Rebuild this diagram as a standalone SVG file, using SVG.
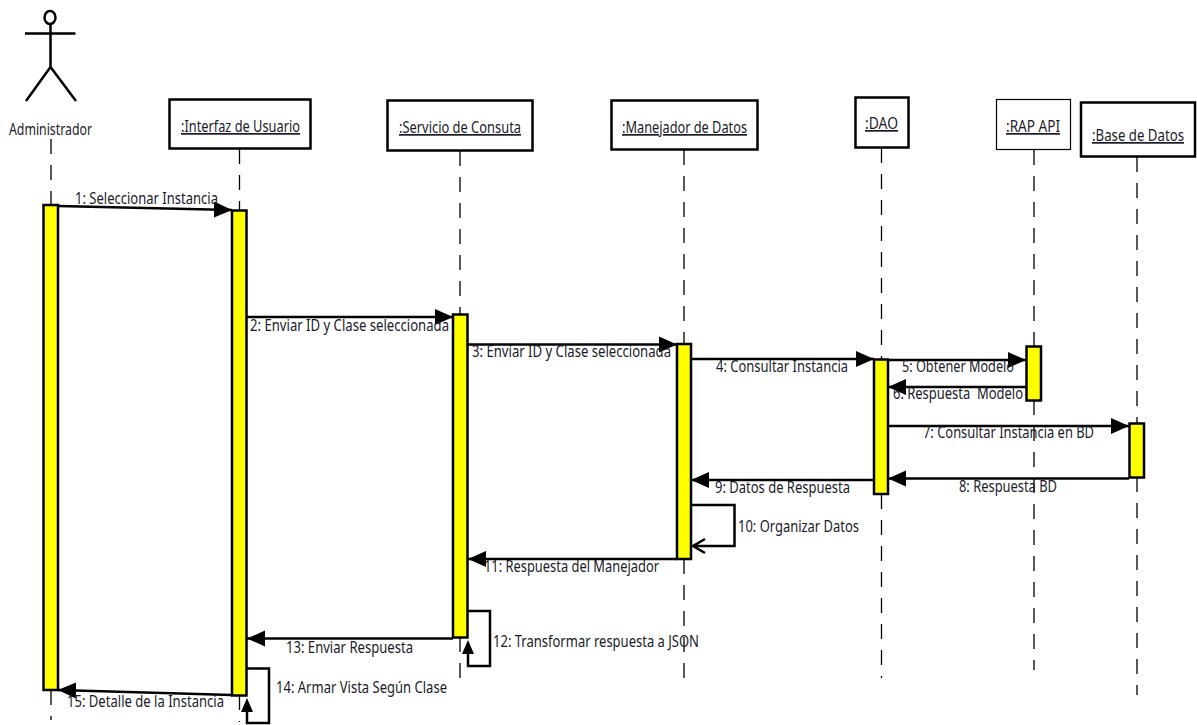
<svg xmlns="http://www.w3.org/2000/svg" width="1197" height="725" viewBox="0 0 1197 725">
<defs>
<marker id="solid" markerUnits="userSpaceOnUse" markerWidth="20" markerHeight="18" refX="18" refY="9" orient="auto"><path d="M0 1L18 9L0 17Z" fill="#000"/></marker>
</defs>
<style>
text{font-family:"Noto Sans","DejaVu Sans",sans-serif;font-size:17px;fill:#1a1a2a}
.box{fill:#fff;stroke:#000;stroke-width:2.5}
.act{fill:#ff0;stroke:#000;stroke-width:2.5}
.life{fill:none;stroke:#000;stroke-width:1.3;stroke-dasharray:15 11}
.msg{fill:none;stroke:#000;stroke-width:2.5}
</style>
<rect width="1197" height="725" fill="#fff"/>
<g id="lifelines">
<path class="life" d="M51 139V205M51 690V720"/>
<path class="life" d="M239.500 149V210M239.500 695V722"/>
<path class="life" d="M460 151V314M460 637V680"/>
<path class="life" d="M684 150V344M684 559V680"/>
<path class="life" d="M881.500 148V359M881.500 494V678"/>
<path class="life" d="M1034 150V346M1034 400V670"/>
<path class="life" d="M1137 157V423M1137 477V695"/>
</g>
<g id="node-administrador">
<ellipse cx="50" cy="17.500" rx="5.500" ry="6.500" fill="none" stroke="#000" stroke-width="2.500"/>
<path d="M25 33.500H75.500M50.500 24V67M50.500 67L26 101M50.500 67L76 101" fill="none" stroke="#000" stroke-width="2.500"/>
<text x="9" y="135" textLength="83" lengthAdjust="spacingAndGlyphs">Administrador</text>
</g>
<g id="node-interfaz">
<rect class="box" x="169.500" y="99.500" width="141" height="49"/>
<text x="181" y="132" textLength="119" lengthAdjust="spacingAndGlyphs" text-decoration="underline">:Interfaz de Usuario</text>
</g>
<g id="node-servicio">
<rect class="box" x="387.500" y="100.500" width="145" height="50"/>
<text x="399" y="133" textLength="122" lengthAdjust="spacingAndGlyphs" text-decoration="underline">:Servicio de Consuta</text>
</g>
<g id="node-manejador">
<rect class="box" x="611.500" y="100.500" width="146" height="49"/>
<text x="622" y="133" textLength="125" lengthAdjust="spacingAndGlyphs" text-decoration="underline">:Manejador de Datos</text>
</g>
<g id="node-dao">
<rect class="box" x="855.500" y="97.500" width="53" height="50"/>
<text x="865" y="129" textLength="33" lengthAdjust="spacingAndGlyphs" text-decoration="underline">:DAO</text>
</g>
<g id="node-rap">
<rect class="box" style="stroke-width:1.200" x="996.500" y="99.500" width="74" height="50"/>
<text x="1006" y="132" textLength="54" lengthAdjust="spacingAndGlyphs" text-decoration="underline">:RAP API</text>
</g>
<g id="node-base">
<rect class="box" x="1081" y="102.500" width="114" height="54"/>
<text x="1092" y="141" textLength="92" lengthAdjust="spacingAndGlyphs" text-decoration="underline">:Base de Datos</text>
</g>
<g id="activations">
<rect class="act" x="43.500" y="205" width="14.500" height="485"/>
<rect class="act" x="232" y="210.500" width="14.500" height="485"/>
<rect class="act" x="453" y="314.500" width="14.500" height="323"/>
<rect class="act" x="677" y="344" width="14" height="215"/>
<rect class="act" x="874" y="359.500" width="14" height="134.500"/>
<rect class="act" x="1026.500" y="346.500" width="14.500" height="54"/>
<rect class="act" x="1129.500" y="423.500" width="14.500" height="54"/>
</g>
<g id="connectors">
<path class="msg" marker-end="url(#solid)" d="M58 206L232 210"/>
<path class="msg" marker-end="url(#solid)" d="M247 317H453"/>
<path class="msg" marker-end="url(#solid)" d="M468 344.500H677"/>
<path class="msg" marker-end="url(#solid)" d="M691 359H874"/>
<path class="msg" marker-end="url(#solid)" d="M888 360H1026"/>
<path class="msg" marker-end="url(#solid)" d="M1026 387H888"/>
<path class="msg" marker-end="url(#solid)" d="M888 426H1129"/>
<path class="msg" marker-end="url(#solid)" d="M1129 478.500H888"/>
<path class="msg" marker-end="url(#solid)" d="M874 480H691"/>
<path class="msg" d="M691 505H734.500V546H693M705 539L693 546L705 553"/>
<path class="msg" marker-end="url(#solid)" d="M677 559H468"/>
<path class="msg" d="M468 611H490V666H468V654"/>
<path fill="#000" d="M468 640L474 654H462Z"/>
<path class="msg" marker-end="url(#solid)" d="M453 638.500H247"/>
<path class="msg" d="M247 668.500H269V723H247V712"/>
<path fill="#000" d="M247 698L253 712H241Z"/>
<path class="msg" marker-end="url(#solid)" d="M232 695L58 690"/>
</g>
<g id="labels">
<text x="75" y="204" textLength="143" lengthAdjust="spacingAndGlyphs">1: Seleccionar Instancia</text>
<text x="250" y="331" textLength="199" lengthAdjust="spacingAndGlyphs">2: Enviar ID y Clase seleccionada</text>
<text x="472" y="357" textLength="199" lengthAdjust="spacingAndGlyphs">3: Enviar ID y Clase seleccionada</text>
<text x="716" y="372" textLength="132" lengthAdjust="spacingAndGlyphs">4: Consultar Instancia</text>
<text x="902" y="372" textLength="112" lengthAdjust="spacingAndGlyphs">5: Obtener Modelo</text>
<text x="893" y="399" textLength="130" lengthAdjust="spacingAndGlyphs" xml:space="preserve">6: Respuesta  Modelo</text>
<text x="923" y="438" textLength="171" lengthAdjust="spacingAndGlyphs">7: Consultar Instancia en BD</text>
<text x="959" y="492" textLength="98" lengthAdjust="spacingAndGlyphs">8: Respuesta BD</text>
<text x="715" y="493" textLength="135" lengthAdjust="spacingAndGlyphs">9: Datos de Respuesta</text>
<text x="738" y="532" textLength="121" lengthAdjust="spacingAndGlyphs">10: Organizar Datos</text>
<text x="484" y="572" textLength="175" lengthAdjust="spacingAndGlyphs">11: Respuesta del Manejador</text>
<text x="493" y="647" textLength="206" lengthAdjust="spacingAndGlyphs">12: Transformar respuesta a JSON</text>
<text x="286" y="653" textLength="127" lengthAdjust="spacingAndGlyphs">13: Enviar Respuesta</text>
<text x="276" y="693" textLength="171" lengthAdjust="spacingAndGlyphs">14: Armar Vista Según Clase</text>
<text x="67" y="707" textLength="157" lengthAdjust="spacingAndGlyphs">15: Detalle de la Instancia</text>
</g>
</svg>
